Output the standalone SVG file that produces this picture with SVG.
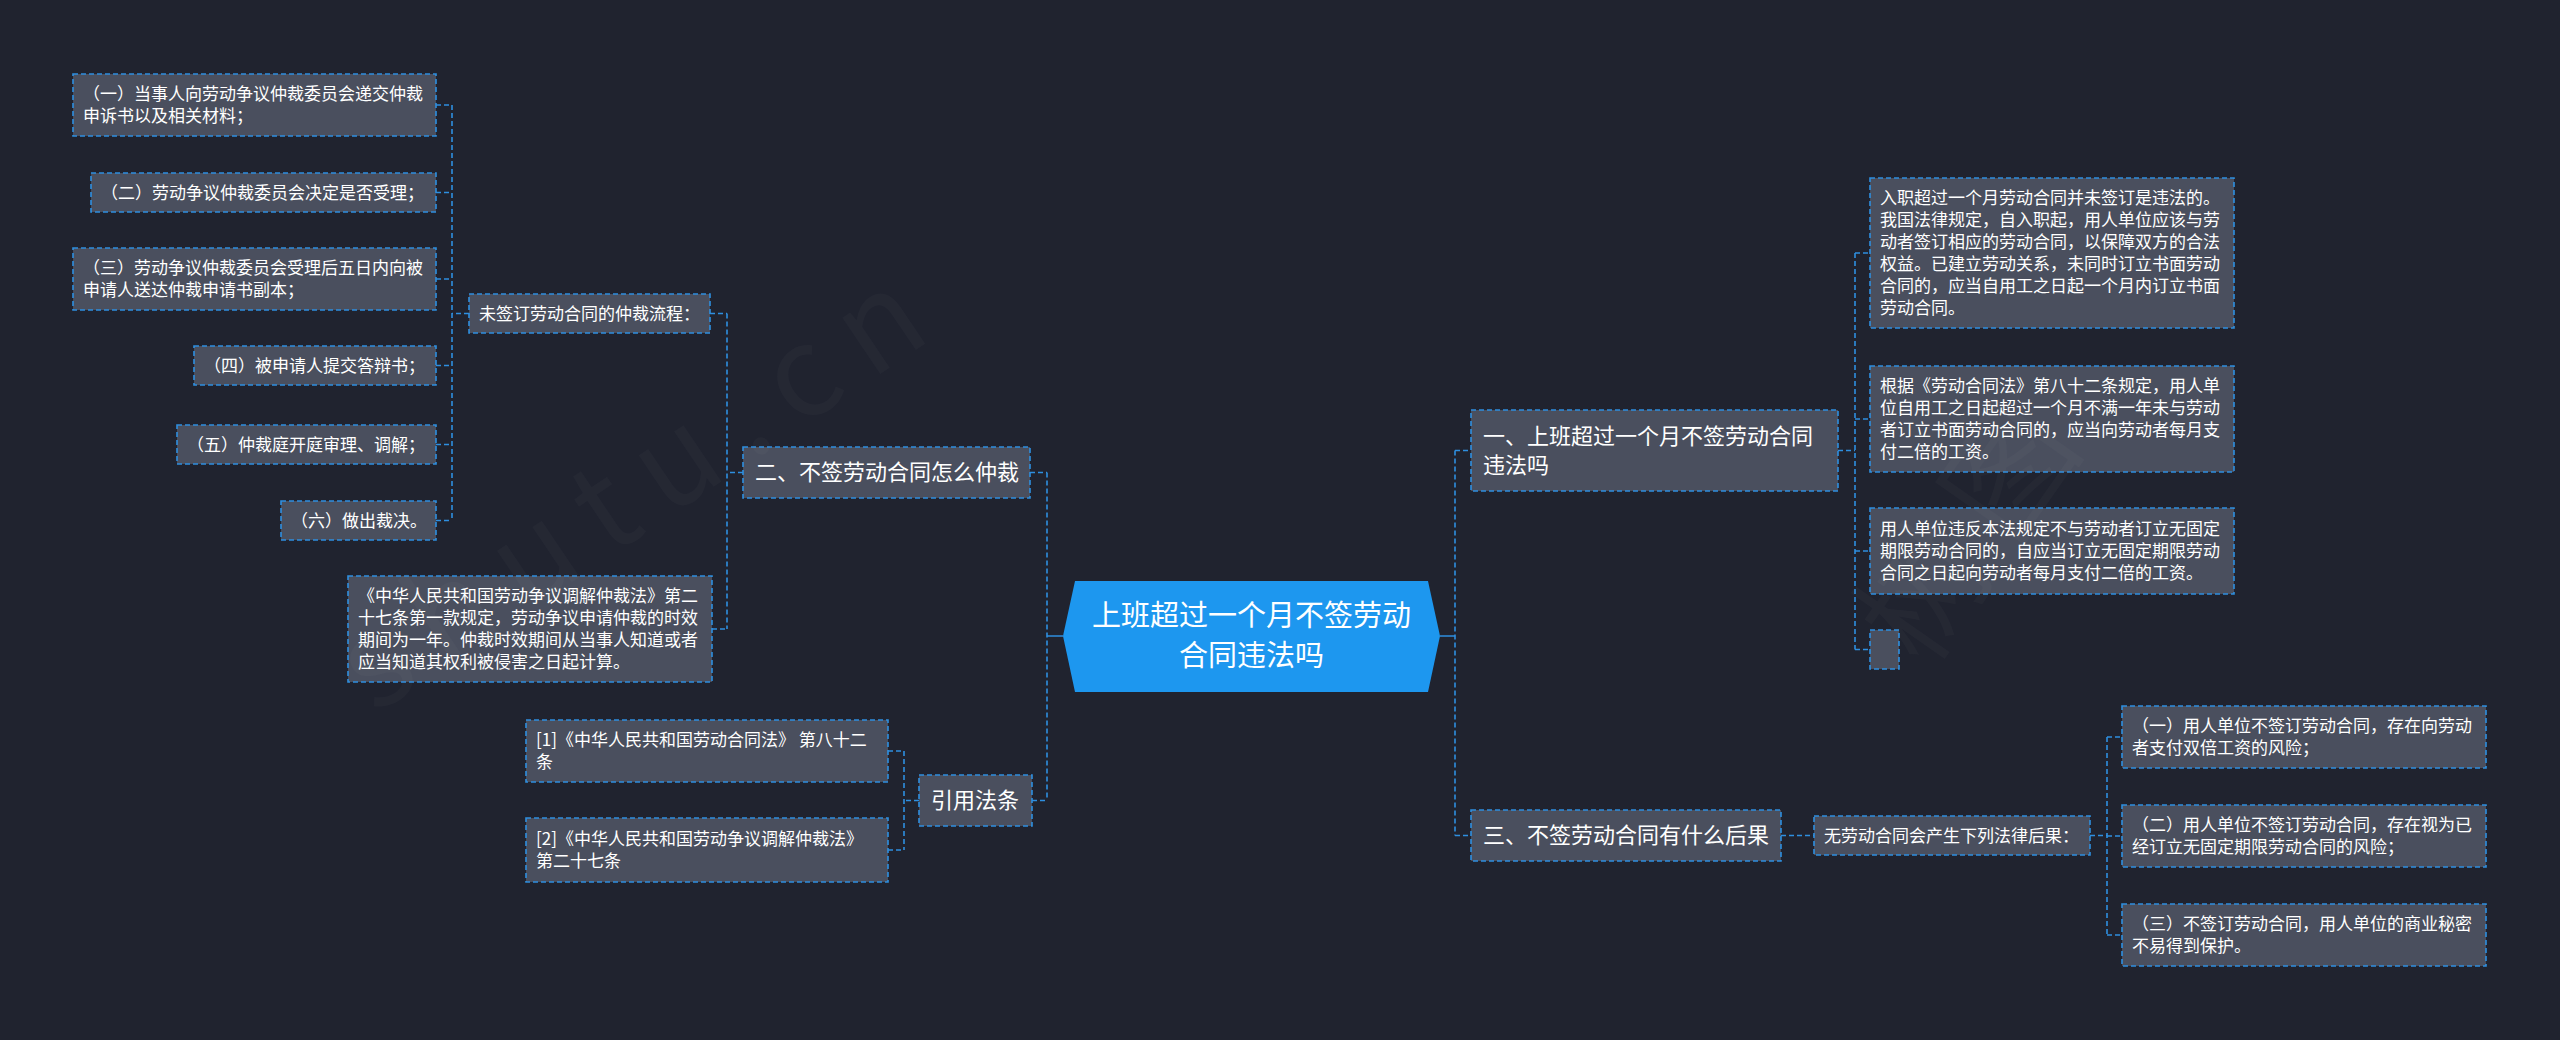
<svg xmlns="http://www.w3.org/2000/svg" width="2560" height="1040" viewBox="0 0 2560 1040">
<style>
.box{fill:#4a4f5e;stroke:#2e8fe0;stroke-width:1.6;stroke-dasharray:5 3}
.link{fill:none;stroke:#2e8fe0;stroke-width:1.6;stroke-dasharray:5 3}
.solid{fill:none;stroke:#2e8fe0;stroke-width:1.6}
text{font-family:"Noto Sans CJK SC","Noto Sans",sans-serif;fill:#ffffff}
.t17{font-size:17px}
.t22{font-size:22px}
.t29{font-size:29px}
.wm{font-size:125px;fill:#ffffff;fill-opacity:0.025;letter-spacing:24px}
</style>
<rect x="0" y="0" width="2560" height="1040" fill="#20232f"/>

<g id="connectors">
  <path class="link" d="M452 105V520.5 M436 105H452 M436 192.5H452 M436 279H452 M436 365.5H452 M436 444.5H452 M436 520.5H452 M469 313.5H452"/>
  <path class="link" d="M727 313.5V629 M710 313.5H727 M712 629H727 M743 472.5H727"/>
  <path class="link" d="M904 751V850 M888 751H904 M888 850H904 M919 800.5H904"/>
  <path class="link" d="M1047 472.5V800.5 M1030 472.5H1047 M1032 800.5H1047"/>
  <path class="solid" d="M1047 636H1063 M1440 636H1455"/>
  <path class="link" d="M1455 450.5V835.5 M1455 450.5H1471 M1455 835.5H1471"/>
  <path class="link" d="M1855 253V649.5 M1838 450.5H1855 M1855 253H1870 M1855 419H1870 M1855 551H1870 M1855 649.5H1870"/>
  <path class="link" d="M1781 835.5H1814"/>
  <path class="link" d="M2107 737V935 M2090 835.5H2107 M2107 737H2122 M2107 836H2122 M2107 935H2122"/>
</g>

<g id="center">
  <polygon points="1063,636 1075,581 1428,581 1440,636 1428,692 1075,692" fill="#1d97ef"/>
  <text class="t29" x="1251.5" y="626" text-anchor="middle">上班超过一个月不签劳动</text>
  <text class="t29" x="1251.5" y="666" text-anchor="middle">合同违法吗</text>
</g>

<g id="node-l1">
  <rect class="box" x="73" y="74" width="363" height="62"/>
  <text class="t17" x="83" y="100">（一）当事人向劳动争议仲裁委员会递交仲裁</text>
  <text class="t17" x="83" y="122">申诉书以及相关材料；</text>
</g>
<g id="node-l2">
  <rect class="box" x="91" y="173" width="345" height="39"/>
  <text class="t17" x="101" y="199">（二）劳动争议仲裁委员会决定是否受理；</text>
</g>
<g id="node-l3">
  <rect class="box" x="73" y="248" width="363" height="62"/>
  <text class="t17" x="83" y="274">（三）劳动争议仲裁委员会受理后五日内向被</text>
  <text class="t17" x="83" y="296">申请人送达仲裁申请书副本；</text>
</g>
<g id="node-l4">
  <rect class="box" x="194" y="346" width="242" height="39"/>
  <text class="t17" x="204" y="372">（四）被申请人提交答辩书；</text>
</g>
<g id="node-l5">
  <rect class="box" x="177" y="425" width="259" height="39"/>
  <text class="t17" x="187" y="451">（五）仲裁庭开庭审理、调解；</text>
</g>
<g id="node-l6">
  <rect class="box" x="281" y="501" width="155" height="39"/>
  <text class="t17" x="291" y="527">（六）做出裁决。</text>
</g>
<g id="node-process">
  <rect class="box" x="469" y="294" width="241" height="39"/>
  <text class="t17" x="479" y="320">未签订劳动合同的仲裁流程：</text>
</g>
<g id="node-law27">
  <rect class="box" x="348" y="576" width="364" height="106"/>
  <text class="t17" x="358" y="602">《中华人民共和国劳动争议调解仲裁法》第二</text>
  <text class="t17" x="358" y="624">十七条第一款规定，劳动争议申请仲裁的时效</text>
  <text class="t17" x="358" y="646">期间为一年。仲裁时效期间从当事人知道或者</text>
  <text class="t17" x="358" y="668">应当知道其权利被侵害之日起计算。</text>
</g>
<g id="node-two">
  <rect class="box" x="743" y="447" width="287" height="51"/>
  <text class="t22" x="755" y="480">二、不签劳动合同怎么仲裁</text>
</g>
<g id="node-cite">
  <rect class="box" x="919" y="775" width="113" height="51"/>
  <text class="t22" x="931" y="808">引用法条</text>
</g>
<g id="node-cite1">
  <rect class="box" x="526" y="720" width="362" height="62"/>
  <text class="t17" x="536" y="746">[1]《中华人民共和国劳动合同法》 第八十二</text>
  <text class="t17" x="536" y="768">条</text>
</g>
<g id="node-cite2">
  <rect class="box" x="526" y="818" width="362" height="64"/>
  <text class="t17" x="536" y="845">[2]《中华人民共和国劳动争议调解仲裁法》</text>
  <text class="t17" x="536" y="867">第二十七条</text>
</g>

<g id="node-one">
  <rect class="box" x="1471" y="410" width="367" height="81"/>
  <text class="t22" x="1483" y="444">一、上班超过一个月不签劳动合同</text>
  <text class="t22" x="1483" y="473">违法吗</text>
</g>
<g id="node-r1">
  <rect class="box" x="1870" y="178" width="364" height="150"/>
  <text class="t17" x="1880" y="204">入职超过一个月劳动合同并未签订是违法的。</text>
  <text class="t17" x="1880" y="226">我国法律规定，自入职起，用人单位应该与劳</text>
  <text class="t17" x="1880" y="248">动者签订相应的劳动合同，以保障双方的合法</text>
  <text class="t17" x="1880" y="270">权益。已建立劳动关系，未同时订立书面劳动</text>
  <text class="t17" x="1880" y="292">合同的，应当自用工之日起一个月内订立书面</text>
  <text class="t17" x="1880" y="314">劳动合同。</text>
</g>
<g id="node-r2">
  <rect class="box" x="1870" y="366" width="364" height="106"/>
  <text class="t17" x="1880" y="392">根据《劳动合同法》第八十二条规定，用人单</text>
  <text class="t17" x="1880" y="414">位自用工之日起超过一个月不满一年未与劳动</text>
  <text class="t17" x="1880" y="436">者订立书面劳动合同的，应当向劳动者每月支</text>
  <text class="t17" x="1880" y="458">付二倍的工资。</text>
</g>
<g id="node-r3">
  <rect class="box" x="1870" y="508" width="364" height="86"/>
  <text class="t17" x="1880" y="535">用人单位违反本法规定不与劳动者订立无固定</text>
  <text class="t17" x="1880" y="557">期限劳动合同的，自应当订立无固定期限劳动</text>
  <text class="t17" x="1880" y="579">合同之日起向劳动者每月支付二倍的工资。</text>
</g>
<g id="node-r4">
  <rect class="box" x="1870" y="630" width="29" height="39"/>
</g>

<g id="node-three">
  <rect class="box" x="1471" y="810" width="310" height="51"/>
  <text class="t22" x="1483" y="843">三、不签劳动合同有什么后果</text>
</g>
<g id="node-result">
  <rect class="box" x="1814" y="816" width="276" height="39"/>
  <text class="t17" x="1824" y="842">无劳动合同会产生下列法律后果：</text>
</g>
<g id="node-rr1">
  <rect class="box" x="2122" y="706" width="364" height="62"/>
  <text class="t17" x="2132" y="732">（一）用人单位不签订劳动合同，存在向劳动</text>
  <text class="t17" x="2132" y="754">者支付双倍工资的风险；</text>
</g>
<g id="node-rr2">
  <rect class="box" x="2122" y="805" width="364" height="62"/>
  <text class="t17" x="2132" y="831">（二）用人单位不签订劳动合同，存在视为已</text>
  <text class="t17" x="2132" y="853">经订立无固定期限劳动合同的风险；</text>
</g>
<g id="node-rr3">
  <rect class="box" x="2122" y="904" width="364" height="62"/>
  <text class="t17" x="2132" y="930">（三）不签订劳动合同，用人单位的商业秘密</text>
  <text class="t17" x="2132" y="952">不易得到保护。</text>
</g>

<g id="watermark">
  <text class="wm" transform="translate(375,715) rotate(-34)">shutu.cn</text>
  <text class="wm" transform="translate(1925,670) rotate(-55)">树图</text>
</g>
</svg>
